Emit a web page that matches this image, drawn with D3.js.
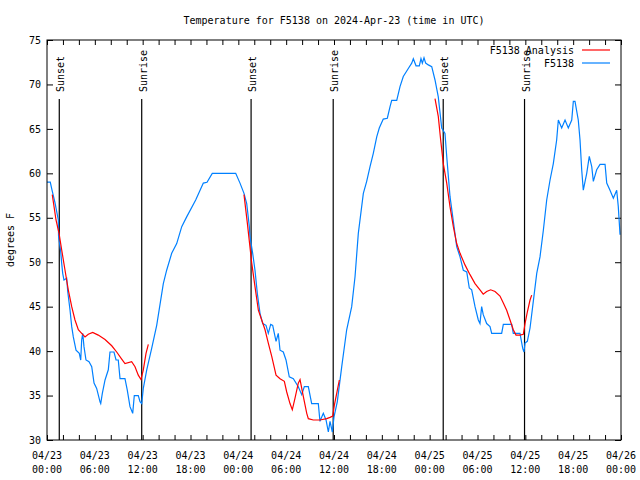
<!DOCTYPE html>
<html><head><meta charset="utf-8">
<script src="https://cdn.jsdelivr.net/npm/d3@7"></script>
<style>
body{margin:0;background:#fff;}
text{font-family:"DejaVu Sans Mono","Liberation Mono",monospace;font-size:10px;fill:#000;}
</style></head><body>
<svg id="c" width="640" height="480"></svg>
<script>
// ---- data (hours since 2024-04-23 00:00 UTC) ----
const obsHours = [0,0.41,0.63,1.0,1.42,1.45,1.72,1.84,1.97,2.13,2.47,2.6,2.89,3.1,3.3,3.64,4.05,4.23,4.35,4.48,4.64,4.89,5.27,5.61,5.9,6.23,6.65,6.74,6.94,7.28,7.69,7.9,8.4,8.66,8.94,9.16,9.78,10.07,10.41,10.75,10.95,11.45,11.67,11.88,12.08,12.51,13.13,13.76,14.59,15.01,15.64,16.27,16.9,17.52,18.65,19.61,20.07,20.73,23.67,24.21,24.71,25.05,25.38,25.46,25.8,26.09,26.38,26.72,27.06,27.47,27.76,28.06,28.31,28.73,29.01,29.23,29.64,29.98,30.39,30.9,31.52,31.95,32.28,32.78,33.2,34.03,34.24,34.66,35.0,35.29,35.5,35.79,36.0,36.41,36.97,37.59,38.22,38.64,39.05,39.68,40.1,40.52,40.93,41.36,41.68,42.18,42.69,43.03,43.24,43.87,44.28,44.69,45.32,45.75,45.95,46.29,46.7,46.91,47.08,47.29,47.5,47.83,48.26,48.67,49.08,49.51,49.92,50.14,50.55,50.97,51.39,51.81,52.22,52.65,52.97,53.27,53.69,54.1,54.31,54.52,54.72,55.15,55.57,55.78,57.03,57.24,58.29,58.49,59.33,59.67,59.83,59.96,60.25,60.59,61.0,61.43,61.84,62.26,62.68,63.1,63.51,63.93,64.14,64.56,64.98,65.39,65.82,66.02,66.23,66.64,66.86,67.07,67.27,67.7,68.02,68.33,68.53,68.95,69.37,70.0,70.21,70.62,71.04,71.46,71.66,71.88];
const obsTemps = [59.0,59.0,58.1,56.7,54.75,52.9,51.2,49.9,48.75,48.0,48.2,46.7,44.6,42.75,41.6,40.1,39.75,39.0,41.25,42.0,40.5,39.0,38.8,38.25,36.4,35.8,34.3,34.1,35.25,36.75,37.9,39.9,39.9,39.0,39.0,36.9,36.9,35.6,33.75,33.0,35.0,35.0,34.3,34.1,35.8,37.9,40.3,42.9,47.6,49.1,51.0,52.1,54.0,55.1,57.0,58.9,59.0,60.0,60.0,58.9,57.75,56.6,54.0,52.9,51.0,49.1,46.5,44.25,43.1,42.9,42.0,43.0,42.9,41.1,42.0,40.1,39.9,39.0,37.1,36.9,36.0,35.1,36.0,36.0,34.1,34.1,32.1,33.0,32.25,30.9,32.1,30.9,32.6,34.3,38.25,42.4,45.0,48.4,53.25,57.75,59.1,60.75,62.25,64.1,65.1,66.1,66.2,67.5,68.2,68.2,69.75,70.9,71.8,72.4,72.9,72.1,72.1,72.9,72.4,73.0,72.4,72.2,72.0,70.5,68.6,65.1,64.5,61.9,57.4,54.6,51.75,50.6,49.1,48.9,47.1,46.9,45.0,43.5,43.1,45.0,44.1,43.1,42.75,42.0,42.0,43.0,43.0,42.0,42.0,40.3,39.9,40.9,41.1,42.6,45.6,48.75,50.6,53.6,57.0,59.25,61.1,63.75,66.0,65.1,66.0,65.1,66.0,68.1,68.1,66.0,63.75,60.4,58.1,60.0,61.9,60.75,59.1,60.4,61.0,61.0,58.9,58.1,57.2,58.1,56.25,53.1];

const ana1Hours = [0.66,1.13,1.51,1.84,2.26,2.67,3.1,3.51,3.93,4.35,4.77,5.18,5.73,6.43,7.28,8.12,8.74,9.37,9.78,10.62,11.04,11.45,11.79,12.08,12.42,12.71];
const ana1Temps = [57.6,54.75,53.25,51.4,49.1,46.9,45.0,43.5,42.4,42.0,41.6,41.9,42.1,41.8,41.3,40.6,39.9,39.1,38.6,38.8,38.25,37.3,36.8,37.9,39.75,40.75];
const ana2Hours = [24.71,25.13,25.68,26.09,26.51,26.93,27.35,27.76,28.19,28.73,29.23,29.77,30.07,30.48,30.77,31.11,31.52,31.74,32.15,32.58,32.78,33.4,34.24,35.09,35.5,35.84,36.04,36.34,36.67];
const ana2Temps = [57.6,54.4,49.9,47.25,44.6,43.5,42.4,40.9,39.4,37.3,36.9,36.6,35.4,34.1,33.4,34.7,36.4,36.8,34.9,33.0,32.4,32.25,32.25,32.4,32.55,32.7,33.9,35.25,36.75];
const ana3Hours = [48.67,49.08,49.38,49.71,50.14,50.55,50.97,51.39,51.81,52.43,53.06,53.69,54.31,54.72,55.15,55.65,56.2,56.82,57.24,57.66,58.08,58.49,58.83,59.33,59.75,59.96,60.25,60.59,60.8];
const ana3Temps = [68.4,66.4,63.75,61.1,58.9,56.25,54.0,52.1,51.0,49.7,48.6,47.6,46.9,46.4,46.7,46.9,46.7,46.2,45.4,44.6,43.5,42.4,41.8,41.8,41.9,43.1,44.4,45.75,46.3];

const sunHours = [1.54,11.88,25.6,35.9,49.7,59.9];
const sunLabels = ["Sunset","Sunrise","Sunset","Sunrise","Sunset","Sunrise"];
const yTicks = [30,35,40,45,50,55,60,65,70,75];
const seriesNames = ["F5138 Analysis","F5138"];
const seriesColors = ["#ff0000","#0080ff"];
const titleText = "Temperature for F5138 on 2024-Apr-23 (time in UTC)";
const yLabel = "degrees F";

// ---- drawing ----
const t0 = Date.UTC(2024,3,23,0,0);
const H = 3600e3;
const toDate = h => new Date(t0 + h*H);
const L=47,R=621,T=40,B=440;
const svg = d3.select("#c");
const x = d3.scaleUtc().domain([toDate(0), toDate(72)]).range([L,R]);
const y = d3.scaleLinear().domain([30,75]).range([B,T]);

svg.append("text").attr("x",334).attr("y",24).attr("text-anchor","middle").text(titleText);
svg.append("text").attr("transform","translate(14,240) rotate(-90)").attr("text-anchor","middle").text(yLabel);

const minorTicks = d3.range(0,73,2).map(toDate);
const majorTicks = d3.range(0,73,6).map(toDate);
const axStyle = g => { g.select(".domain").remove(); g.selectAll("line").attr("stroke","#000"); };
svg.append("g").attr("transform",`translate(0,${B})`).call(d3.axisBottom(x).tickValues(minorTicks).tickSize(-5).tickFormat("")).call(axStyle);
svg.append("g").attr("transform",`translate(0,${T})`).call(d3.axisTop(x).tickValues(minorTicks).tickSize(-5).tickFormat("")).call(axStyle);
svg.append("g").attr("transform",`translate(${L},0)`).call(d3.axisLeft(y).tickValues(yTicks).tickSize(-6).tickPadding(6)).call(axStyle)
  .selectAll("text").style("font-family",'"DejaVu Sans Mono",monospace').style("font-size","10px");
svg.append("g").attr("transform",`translate(${R},0)`).call(d3.axisRight(y).tickValues(yTicks).tickSize(-6).tickFormat("")).call(axStyle);

const fmtD = d3.utcFormat("%m/%d"), fmtT = d3.utcFormat("%H:%M");
const xl = svg.append("g").selectAll("text").data(majorTicks).join("text")
  .attr("text-anchor","middle").attr("x",d=>x(d));
xl.append("tspan").attr("x",d=>x(d)).attr("y",459).text(fmtD);
xl.append("tspan").attr("x",d=>x(d)).attr("y",473).text(fmtT);

// sunrise / sunset lines
const sg = svg.append("g");
sunHours.forEach((h,i)=>{
  const px = x(toDate(h));
  sg.append("line").attr("x1",px).attr("x2",px).attr("y1",99).attr("y2",B).attr("stroke","#000").attr("stroke-width",1.2);
  sg.append("text").attr("transform",`translate(${px+5},92) rotate(-90)`).attr("text-anchor","start").text(sunLabels[i]);
});

const line = d3.line().x(d=>x(toDate(d[0]))).y(d=>y(d[1]));
const zip = (a,b)=>a.map((v,i)=>[v,b[i]]);
svg.append("path").datum(zip(obsHours,obsTemps)).attr("d",line).attr("fill","none").attr("stroke",seriesColors[1]).attr("stroke-width",1.2);
[[ana1Hours,ana1Temps],[ana2Hours,ana2Temps],[ana3Hours,ana3Temps]].forEach(([hh,tt])=>{
  svg.append("path").datum(zip(hh,tt)).attr("d",line).attr("fill","none").attr("stroke",seriesColors[0]).attr("stroke-width",1.2);
});

// frame
svg.append("rect").attr("x",L).attr("y",T).attr("width",R-L).attr("height",B-T).attr("fill","none").attr("stroke","#000");

// legend
seriesNames.forEach((n,i)=>{
  const ly = 50 + i*13;
  svg.append("text").attr("x",574).attr("y",ly+4).attr("text-anchor","end").text(n);
  svg.append("line").attr("x1",582).attr("x2",610).attr("y1",ly).attr("y2",ly).attr("stroke",seriesColors[i]).attr("stroke-width",1.2);
});
</script></body></html>
